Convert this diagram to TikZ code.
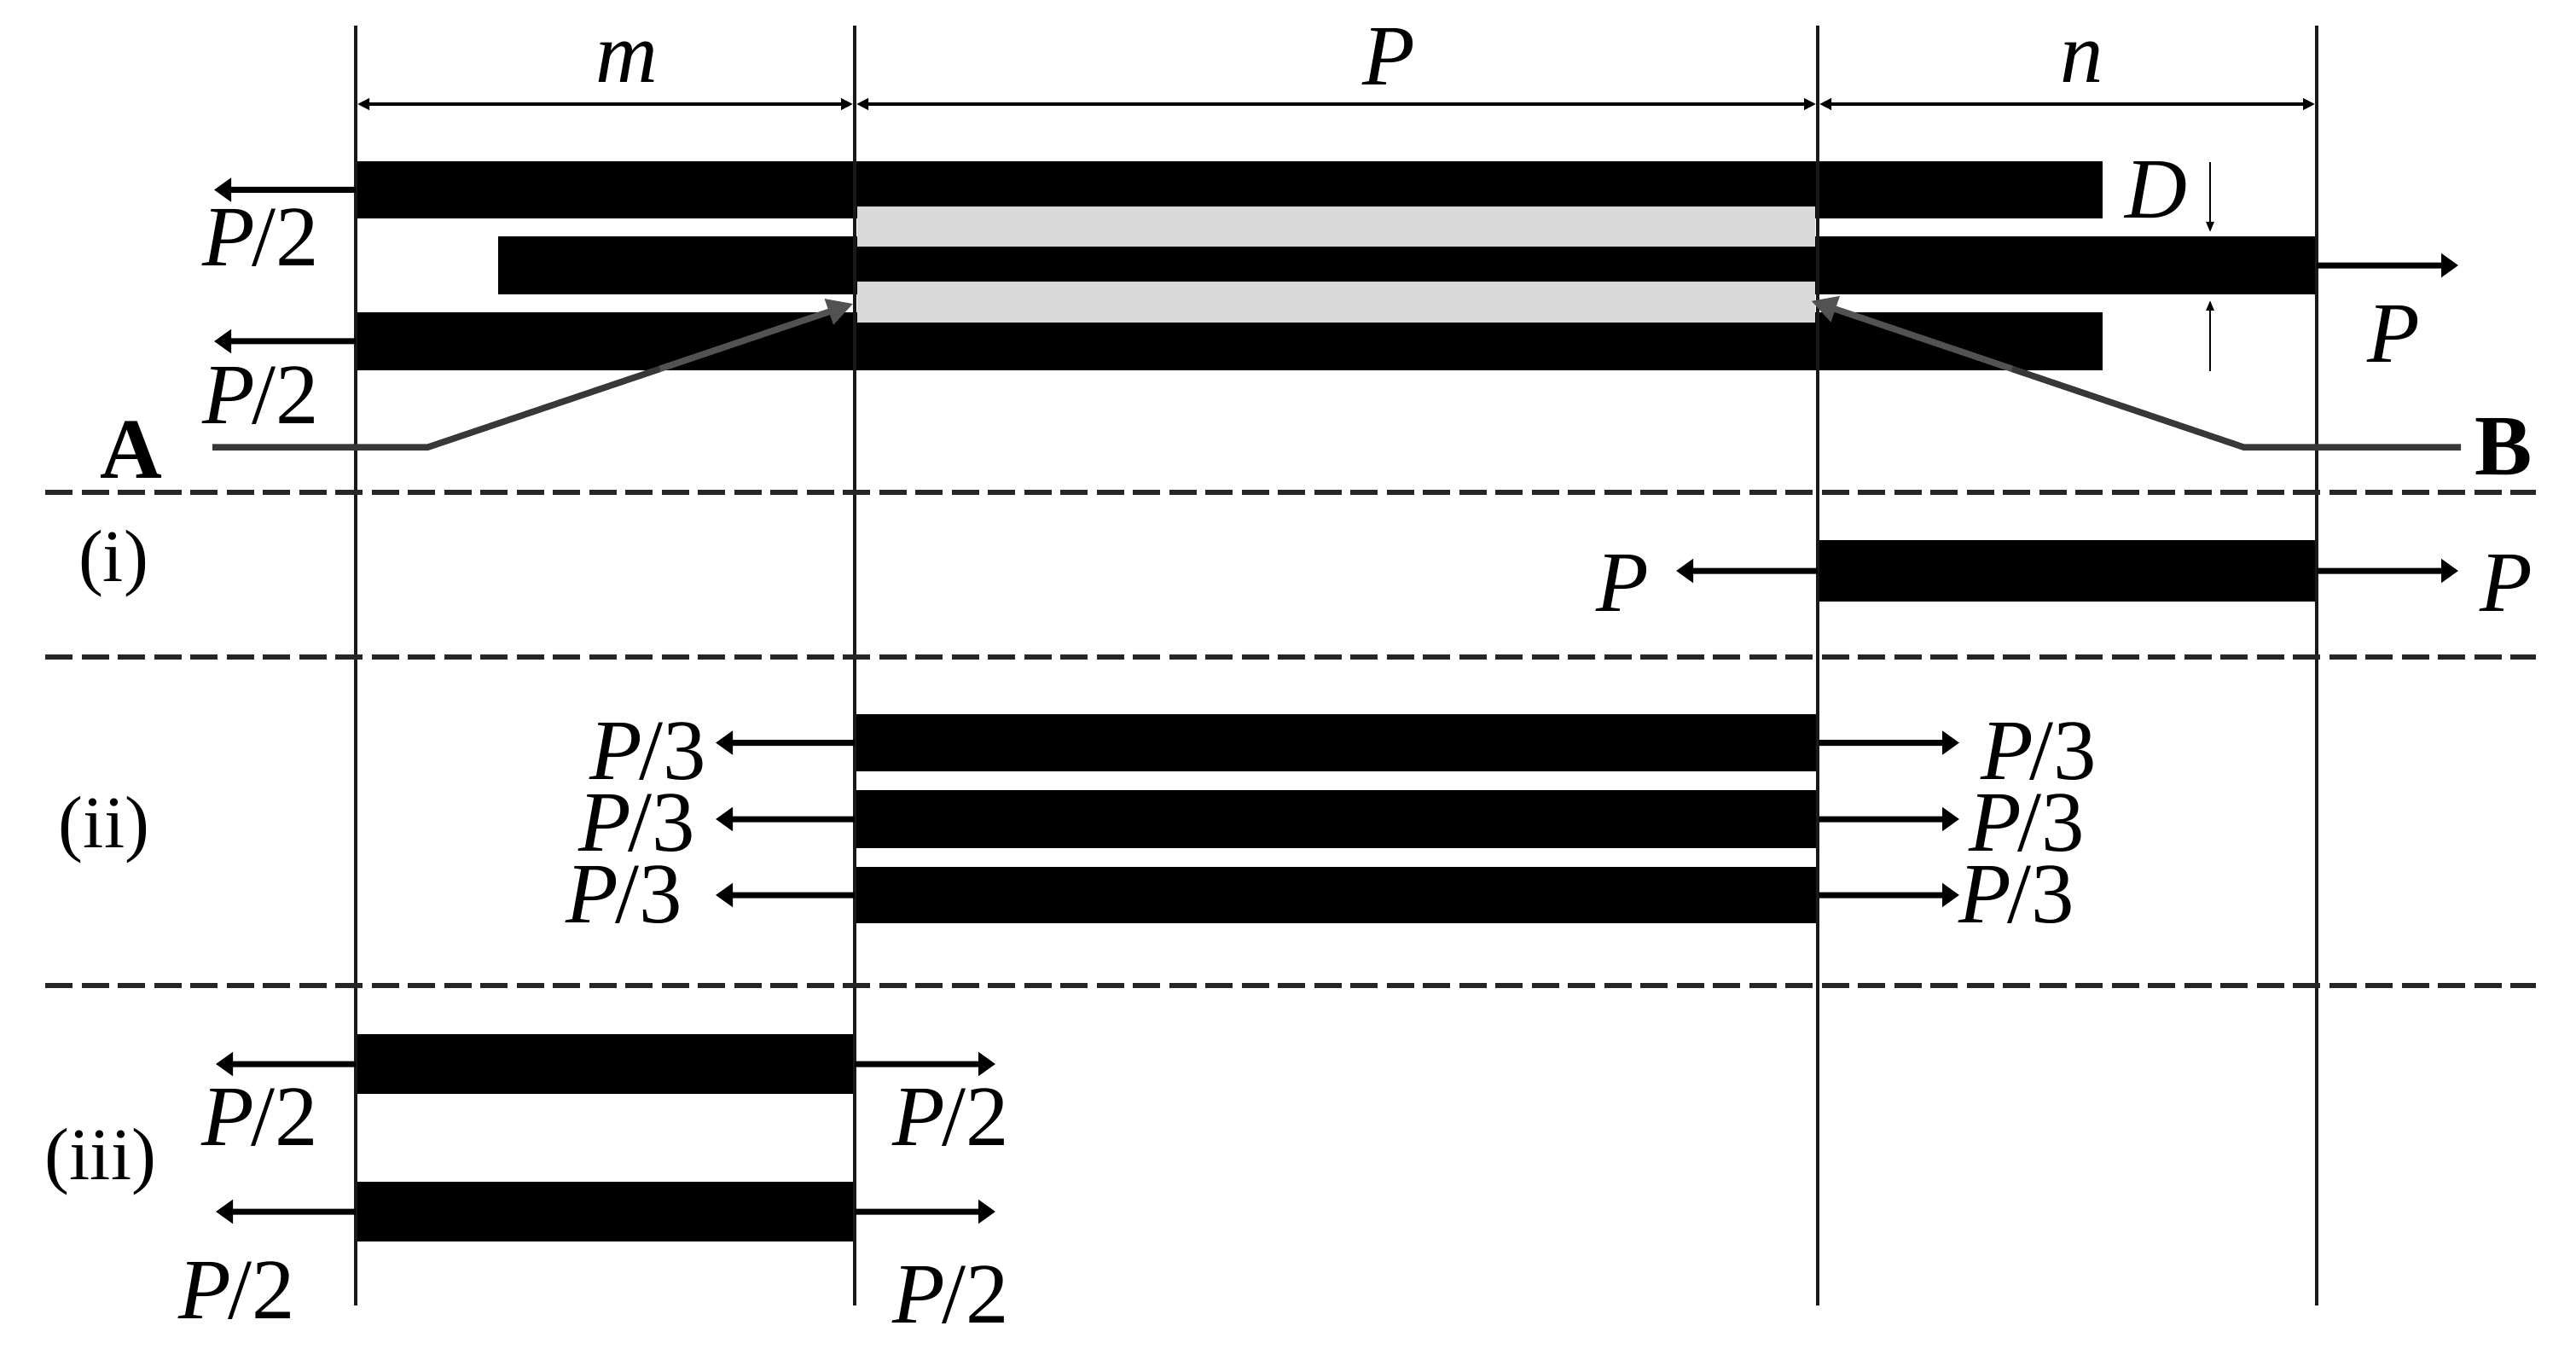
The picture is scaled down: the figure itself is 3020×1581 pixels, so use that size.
\documentclass[tikz,border=0pt]{standalone}
\usepackage{fontspec}
\setmainfont{Liberation Serif}
\usepackage{tikz}
\usetikzlibrary{arrows.meta}
\usetikzlibrary{calc}
\tikzstyle{bar}=[fill=black,inner sep=0pt,outer sep=0pt,anchor=north west]
\tikzstyle{bond}=[fill=black!15,inner sep=0pt,outer sep=0pt,anchor=north west,minimum width=112.3mm,minimum height=4.75mm]
\tikzstyle{lab}=[inner sep=0pt,anchor=base,font=\fontsize{28.7}{30}\selectfont]
\tikzstyle{rowlab}=[inner sep=0pt,anchor=base,font=\fontsize{24.7}{26}\selectfont]
\tikzstyle{ptlab}=[inner sep=0pt,anchor=base,font=\fontsize{28.7}{30}\selectfont\bfseries]
\tikzstyle{force}=[line width=.7mm,-{Triangle[length=2mm,width=2.7mm]}]
\tikzstyle{dimen}=[line width=.45mm,{Triangle[length=1.4mm,width=1.3mm]}-{Triangle[length=1.4mm,width=1.3mm]}]
\tikzstyle{thin dimen}=[line width=.25mm,-{Triangle[length=1.2mm,width=.9mm]}]
\tikzstyle{guide}=[line width=.45mm,black!90]
\tikzstyle{cut}=[line width=.6mm,black!85,dash pattern=on 3.2mm off 1.05mm]
\tikzstyle{leader}=[line width=.75mm,black!78]
\newcommand{\half}{\textit{P}\kern-.04em/2}
\newcommand{\third}{\textit{P}\kern-.04em/3}
\begin{document}
\begin{tikzpicture}[x=.1mm,y=-.1mm]
\useasboundingbox (0,0) rectangle (3020,1581);
% bars
\node [bar,minimum width=204.8mm,minimum height=6.7mm] (top) at (417,189) {};
\node [bar,minimum width=213.2mm,minimum height=6.75mm] (mid) at (584,277.5) {};
\node [bar,minimum width=204.8mm,minimum height=6.8mm] (bot) at (417,366) {};
\node [bond] (gapU) at (1005,242) {};
\node [bond] (gapL) at (1005,330.5) {};
\node [bar,minimum width=58.5mm,minimum height=7.2mm] (r1) at (2131,633) {};
\node [bar,minimum width=113mm,minimum height=6.7mm] (r2a) at (1002,837) {};
\node [bar,minimum width=113mm,minimum height=6.8mm] (r2b) at (1002,926) {};
\node [bar,minimum width=113mm,minimum height=6.6mm] (r2c) at (1002,1016) {};
\node [bar,minimum width=58.5mm,minimum height=7mm] (r3a) at (417,1212) {};
\node [bar,minimum width=58.5mm,minimum height=7mm] (r3b) at (417,1385) {};
% guides
\coordinate (v1t) at (417,30);
\coordinate (v1b) at (417,1530);
\coordinate (v2t) at (1002,30);
\coordinate (v2b) at (1002,1530);
\coordinate (v3t) at (2131,30);
\coordinate (v3b) at (2131,1530);
\coordinate (v4t) at (2716,30);
\coordinate (v4b) at (2716,1530);
\draw [guide] (v1t) -- (v1b);
\draw [guide] (v2t) -- (v2b);
\draw [guide] (v3t) -- (v3b);
\draw [guide] (v4t) -- (v4b);
\coordinate (d1) at (419,122);
\coordinate (d2) at (1000,122);
\coordinate (d3) at (1004,122);
\coordinate (d4) at (2129,122);
\coordinate (d5) at (2133,122);
\coordinate (d6) at (2714,122);
\draw [dimen] (d1) -- (d2);
\draw [dimen] (d3) -- (d4);
\draw [dimen] (d5) -- (d6);
\node [lab] (m) at (735,97) {\textit{m}};
\node [lab] (len) at (1628,100) {\textit{P}};
\node [lab] (n) at (2441,97) {\textit{n}};
% cuts
\coordinate (c1l) at (53,577);
\coordinate (c1r) at (2973,577);
\coordinate (c2l) at (53,770);
\coordinate (c2r) at (2973,770);
\coordinate (c3l) at (53,1155);
\coordinate (c3r) at (2973,1155);
\draw [cut] (c1l) -- (c1r);
\draw [cut] (c2l) -- (c2r);
\draw [cut] (c3l) -- (c3r);
% loads on the joint
\coordinate (fT) at (251,222.5);
\coordinate (fB) at (251,400);
\coordinate (fM) at (2882,311);
\draw [force] (top.west) -- (fT);
\draw [force] (bot.west) -- (fB);
\draw [force] (mid.east) -- (fM);
\node [lab] (lT) at (306,312) {\half};
\node [lab] (lB) at (306,496) {\half};
\node [lab] (lM) at (2806,425) {\textit{P}};
% thickness
\node [lab] (D) at (2528,256) {\textit{D}};
\coordinate (th1) at (2591,190);
\coordinate (th2) at (2591,272);
\coordinate (th3) at (2591,435);
\coordinate (th4) at (2591,352);
\draw [thin dimen] (th1) -- (th2);
\draw [thin dimen] (th3) -- (th4);
% A and B
\node [ptlab] (A) at (154,560) {A};
\node [ptlab] (B) at (2935,556) {B};
\coordinate (lineA) at (249,524);
\coordinate (kneeA) at (502,524);
\coordinate (lineB) at (2885,524);
\coordinate (kneeB) at (2630,524);
\draw [leader] (lineA) -- (kneeA) -- ($(kneeA)!.54!(gapL.west)$);
\draw [leader,black!68,shorten >=.5mm,-{Triangle[length=3mm,width=3mm]}] ($(kneeA)!.54!(gapL.west)$) -- (gapL.west);
\draw [leader] (lineB) -- (kneeB) -- ($(kneeB)!.54!(gapL.east)$);
\draw [leader,black!68,shorten >=-.5mm,-{Triangle[length=3mm,width=3mm]}] ($(kneeB)!.54!(gapL.east)$) -- (gapL.east);
% row i
\node [rowlab] (ri) at (133,681) {(i)};
\coordinate (f1l) at (1965,669);
\coordinate (f1r) at (2882,669);
\draw [force] (r1.west) -- (f1l);
\draw [force] (r1.east) -- (f1r);
\node [lab] (l1l) at (1902,716) {\textit{P}};
\node [lab] (l1r) at (2938,716) {\textit{P}};
% row ii
\node [rowlab] (rii) at (122,993) {(ii)};
\coordinate (f2al) at (839,870.5);
\coordinate (f2ar) at (2297,870.5);
\coordinate (f2bl) at (839,960);
\coordinate (f2br) at (2297,960);
\coordinate (f2cl) at (839,1049);
\coordinate (f2cr) at (2297,1049);
\draw [force] (r2a.west) -- (f2al);
\draw [force] (r2a.east) -- (f2ar);
\draw [force] (r2b.west) -- (f2bl);
\draw [force] (r2b.east) -- (f2br);
\draw [force] (r2c.west) -- (f2cl);
\draw [force] (r2c.east) -- (f2cr);
\node [lab] (l2al) at (760,913) {\third};
\node [lab] (l2bl) at (747,997) {\third};
\node [lab] (l2cl) at (732,1081) {\third};
\node [lab] (l2ar) at (2390,913) {\third};
\node [lab] (l2br) at (2376,997) {\third};
\node [lab] (l2cr) at (2364,1081) {\third};
% row iii
\node [rowlab] (riii) at (118,1382) {(iii)};
\coordinate (f3al) at (253,1247);
\coordinate (f3ar) at (1167,1247);
\coordinate (f3bl) at (253,1420);
\coordinate (f3br) at (1167,1420);
\draw [force] (r3a.west) -- (f3al);
\draw [force] (r3a.east) -- (f3ar);
\draw [force] (r3b.west) -- (f3bl);
\draw [force] (r3b.east) -- (f3br);
\node [lab] (l3al) at (305,1342) {\half};
\node [lab] (l3bl) at (278,1545) {\half};
\node [lab] (l3ar) at (1115,1342) {\half};
\node [lab] (l3br) at (1115,1550) {\half};
\end{tikzpicture}
\end{document}
